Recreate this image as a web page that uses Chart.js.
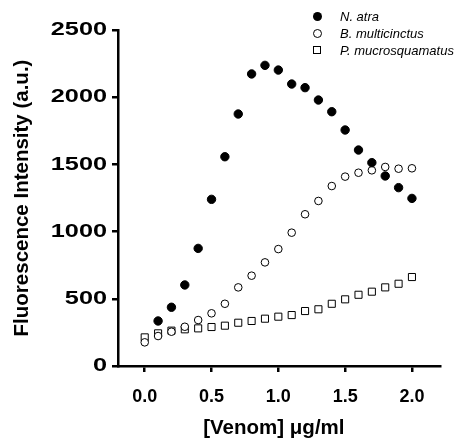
<!DOCTYPE html>
<html>
<head>
<meta charset="utf-8">
<script src="https://cdn.jsdelivr.net/npm/chart.js@4/dist/chart.umd.min.js"></script>
<style>
  html, body { margin: 0; padding: 0; background: #fff; }
  #wrap { position: relative; width: 458px; height: 443px; }
  #legend { position: absolute; left: 311px; top: 8px; font: italic 13px "Liberation Sans", Arial, sans-serif; color: #000; }
  #legend .row { height: 17px; line-height: 17px; white-space: nowrap; }
  #legend .mk { display: inline-block; width: 29px; position: relative; height: 17px; vertical-align: top; }
  #legend .mk i { position: absolute; left: 2px; top: 4px; box-sizing: border-box; }
</style>
</head>
<body>
<div id="wrap">
  <canvas id="c" width="458" height="443"></canvas>
  <div id="legend"></div>
</div>
<script>
// venom concentration (ug/ml)
const doses = [0.0, 0.1, 0.2, 0.3, 0.4, 0.5, 0.6, 0.7, 0.8, 0.9, 1.0,
               1.1, 1.2, 1.3, 1.4, 1.5, 1.6, 1.7, 1.8, 1.9, 2.0];
const seriesNames = ['N. atra', 'B. multicinctus', 'P. mucrosquamatus'];
const nAtra = [null, 335, 437, 603, 875, 1240, 1557, 1875, 2173, 2237, 2202,
               2098, 2071, 1979, 1892, 1756, 1607, 1513, 1414, 1327, 1247];
const bMulticinctus = [176, 223, 255, 292, 342, 392, 463, 585, 672, 771, 870,
                       992, 1129, 1228, 1339, 1409, 1438, 1456, 1481, 1468, 1471];
const pMucrosquamatus = [213, 243, 263, 273, 280, 290, 300, 322, 335, 352, 367,
                         379, 409, 422, 463, 496, 530, 553, 585, 612, 662];
const yTicks = [0, 500, 1000, 1500, 2000, 2500];
const xTicks = [0.0, 0.5, 1.0, 1.5, 2.0];

const FONT = '"Liberation Sans", Arial, sans-serif';

function toPoints(vals) {
  return doses.map((x, i) => ({ x: x, y: vals[i] })).filter(p => p.y !== null);
}

const datasets = [
  { label: seriesNames[0], data: toPoints(nAtra), pointStyle: 'circle', pointRadius: 4.2,
    backgroundColor: '#000', borderColor: '#000', borderWidth: 1 },
  { label: seriesNames[1], data: toPoints(bMulticinctus), pointStyle: 'circle', pointRadius: 3.8,
    backgroundColor: '#fff', borderColor: '#000', borderWidth: 1 },
  { label: seriesNames[2], data: toPoints(pMucrosquamatus), pointStyle: 'rect', pointRadius: 5,
    backgroundColor: '#fff', borderColor: '#000', borderWidth: 1 }
];

// y tick labels in the source are wide bold digits: draw them stretched
const wideYLabels = {
  id: 'wideYLabels',
  afterDraw(chart) {
    const s = chart.scales.y, ctx = chart.ctx;
    ctx.save();
    ctx.font = 'bold 19px ' + FONT;
    ctx.fillStyle = '#000';
    ctx.textAlign = 'right';
    ctx.textBaseline = 'middle';
    s.ticks.forEach(t => {
      const y = s.getPixelForValue(t.value);
      ctx.save();
      ctx.translate(107, y);
      ctx.scale(1.33, 1);
      ctx.fillText(String(t.value), 0, 0);
      ctx.restore();
    });
    ctx.restore();
  }
};

new Chart(document.getElementById('c'), {
  type: 'scatter',
  data: { datasets },
  plugins: [wideYLabels],
  options: {
    responsive: false,
    animation: false,
    layout: { padding: { left: 0, right: 18, top: 30, bottom: 0 } },
    plugins: { legend: { display: false }, tooltip: { enabled: false } },
    scales: {
      x: {
        type: 'linear', min: -0.2, max: 2.21,
        afterBuildTicks: s => { s.ticks = xTicks.map(v => ({ value: v })); },
        afterFit: s => { s.height = 77; },
        ticks: { includeBounds: false, padding: 14, color: '#000',
                 font: { family: FONT, size: 18, weight: 'bold' },
                 callback: v => v.toFixed(1) },
        grid: { drawOnChartArea: false, drawTicks: true, tickLength: 6, color: '#000', lineWidth: 2.5 },
        border: { color: '#000', width: 2.5 },
        title: { display: true, text: '[Venom] \u03bcg/ml\u2002', color: '#000', padding: { top: 0, bottom: 2 },
                 font: { family: FONT, size: 20.5, weight: 'bold' } }
      },
      y: {
        type: 'linear', min: 0, max: 2500,
        afterBuildTicks: s => { s.ticks = yTicks.map(v => ({ value: v })); },
        afterFit: s => { s.width = 118; },
        ticks: { padding: 6, color: 'rgba(0,0,0,0)', font: { family: FONT, size: 19, weight: 'bold' },
                 callback: v => String(v) },
        grid: { drawOnChartArea: false, drawTicks: true, tickLength: 6, color: '#000', lineWidth: 2.5 },
        border: { color: '#000', width: 2.5 },
        title: { display: true, text: 'Fluorescence Intensity (a.u.)', color: '#000', padding: { top: 10, bottom: 0 },
                 font: { family: FONT, size: 20.5, weight: 'bold' } }
      }
    }
  }
});

// legend overlay
const marks = [
  'width:9px;height:9px;border-radius:50%;background:#000;',
  'width:9px;height:9px;border-radius:50%;border:1px solid #000;background:#fff;',
  'width:8px;height:8px;border:1px solid #000;background:#fff;'
];
const lg = document.getElementById('legend');
seriesNames.forEach((name, i) => {
  const row = document.createElement('div');
  row.className = 'row';
  row.innerHTML = '<span class="mk"><i style="' + marks[i] + '"></i></span>' + name;
  lg.appendChild(row);
});
</script>
</body>
</html>
